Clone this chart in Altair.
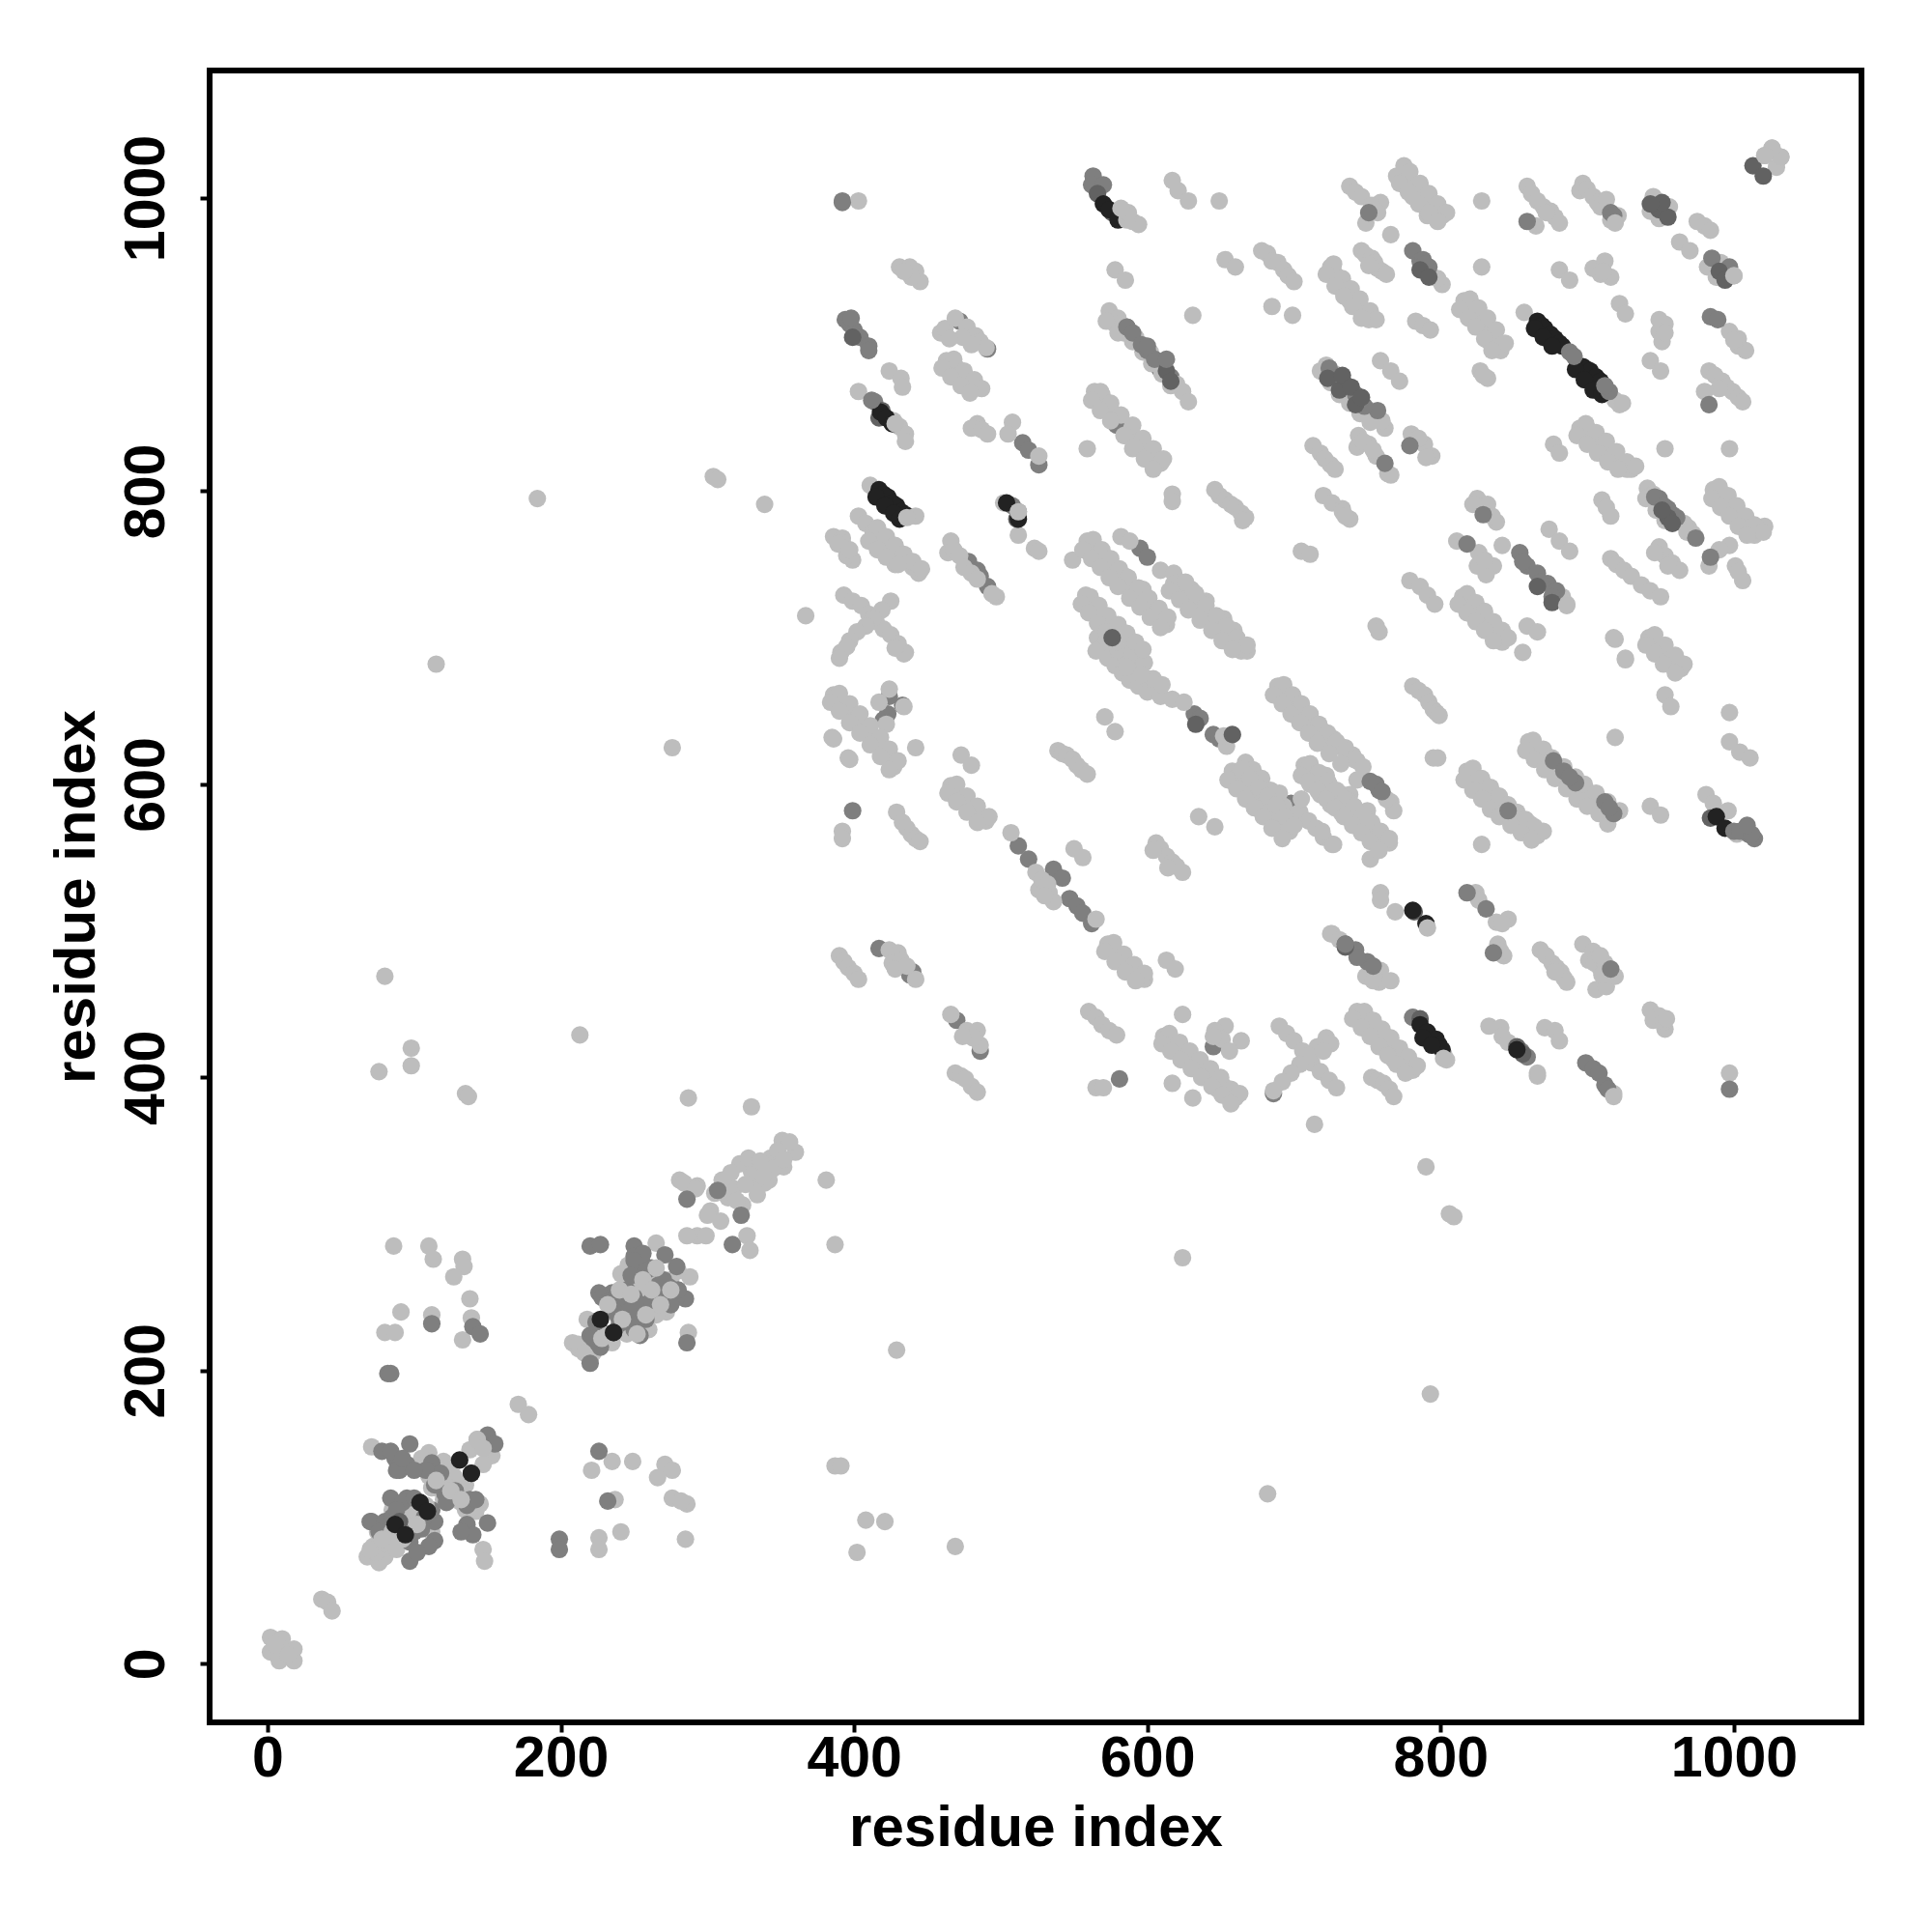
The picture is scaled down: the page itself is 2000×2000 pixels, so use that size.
import altair as alt
import pandas as pd

tick_values = [0, 200, 400, 600, 800, 1000]
axis_title = "residue index"
grays = ["#bdbdbd", "#7f7f7f", "#626262", "#222222", "#bcbcbc"]

light_diag_low = [(2,18),(10,17),(18,10),(2,8),(8,2),(18,2),(10,10),(5,13),(14,6),(37,44),(41,42),(44,36),(171,177),(178,170),
 (71,148),(110,144),(110,128),(115,120),(130,118),(125,112),(145,109),(123,135),(143,153),(153,142),(138,146),(147,136),(117,122),(128,126),(135,122),(120,138),(127,128),
 (72,80),(84,79),(68,73),(76,69),(80,73),(80,88),(90,106),(100,95),(74,76),(70,78),(147,78),(148,70),(103,100),(86,84),(92,100),
 (208,219),(220,209),(218,235),(235,219),(212,215),(265,287),(288,264),(241,266),(261,266),(269,242),(252,259),(258,262),(246,272),(273,248),(264,246),(266,256),(287,226),(222,212)]
light_diag_mid = [(281,330),(293,326),(302,309),(309,302),(293,292),(286,292),(299,292),(327,292),(329,282),(314,318),(324,313),(332,328),(342,330),(352,339),(318,324),(330,336),(343,345),(351,357),(360,349),(339,328),(322,341),(284,328),(292,324),(305,321),(310,330),(316,335),(326,327),(334,320),(345,338),(356,356),(348,350),(328,345),(320,316),(338,333),(336,343),(352,344),(300,306)]
light_scatter = [(86,285),(110,285),(113,276),(133,276),(134,271),(127,264),(138,249),(91,240),(112,238),(80,226),(87,226),(133,221),(139,236),(226,86),(226,78),(241,90),(285,85),(235,138),(221,132),(249,138),(271,136),(276,132),(266,127),(237,112),(276,113),(286,109),(282,111),(381,330),(387,286),(429,214),(213,429),(98,420),(98,408),(76,404),(80,469),(135,389),(137,387),(793,184),(682,116),(624,277),(809,305),(806,307),(790,339),(402,76),(408,98),(421,97),(469,80),(387,135),(391,135),(287,386),(330,380),(115,682),(276,625),(184,795),(304,810),(307,808),(339,791),(367,715),(386,631),(397,617),(442,625),(392,568),(392,563),(714,368)]

light_a = [(403,998),(617,1012),(621,1005),(628,998),(649,998),(431,953),(438,953),(442,950),(445,943),(439,946),(434,950),
 (459,908),(462,911),(469,918),(477,912),(483,906),(486,902),(490,898),(474,905),(480,900),(465,904),(463,889),(467,886),(470,884),(473,880),(477,877),(481,874),(484,871),(480,871),(424,882),(432,877),(433,871),(403,868),(427,848),(431,844),(435,839),(435,834),(484,846),(480,843),(487,842),(491,839),(508,847),(505,839),(559,829),
 (564,868),(569,866),(573,860),(576,853),(589,842),(594,832),(598,829),(602,826),(606,822),(609,819),(592,836),(585,838),(590,829),(574,923),(580,918),(592,905),(602,895),(620,873),(624,868),(628,861),(578,951),(585,944),(631,920),(653,958),(660,953),
 (678,964),(682,962),(685,957),(689,956),(693,951),(696,947),(700,943),(685,926),(699,920),(725,953),(728,948),(731,939),(735,937),(740,932),(744,928),(748,923),(751,917),(729,942),(738,930),
 (411,804),(403,783),(408,778),(413,772),(418,767),(424,761),(429,756),(435,752),(440,748),(444,744),(415,766),(428,750),(386,769),(392,768),(392,765),(395,760),(399,753),(395,756),(502,792),(512,770),(523,761),(526,759),(549,753),(617,798),(617,793),
 (646,801),(649,797),(653,794),(657,791),(660,789),(664,785),(667,782),(665,780),(705,759),(711,757),(720,797),(726,792),(733,788),(733,786),(738,781),(735,783),
 (466,766),(464,758),(468,760),(472,756),(475,748),(480,744),(497,728),(494,730),(484,740),(559,766),(563,761),(567,758),(571,752),(575,746),(579,742),(583,737),(588,733),(594,728),(600,722),(606,716),(610,712),(613,709),(575,750),(585,742),(597,733),
 (582,769),(588,766),(609,746),(618,744),(622,738),(625,730),(631,725),(637,721),(643,715),(649,709),(655,702),(660,697),(664,691),(618,737),(630,733),(640,725),(652,713),(659,705),(668,691),
 (558,729),(563,723),(569,716),(573,711),(585,702),(590,697),(594,690),(393,729),(399,725),(405,722),(410,716),(415,711),(420,706),(425,702),(430,696),(435,690),(425,725),(419,719),(413,713),(408,708),(402,704),(397,698),(391,690),(395,694),(434,689),(390,686),(428,693)]
light_b = [(386,661),(390,657),(395,652),(399,648),(403,646),(407,640),(411,634),(415,629),(418,625),(423,618),(427,612),(390,654),(424,665),(417,656),(434,653),(422,641),(385,632),(396,618),(473,620),(480,613),
 (466,599),(470,594),(475,589),(478,586),(482,582),(486,578),(490,575),(429,581),(433,574),(436,570),(439,566),(442,563),(445,561),(539,623),(542,621),(545,620),(549,617),(552,613),(555,610),(559,607),(571,646),(578,636),
 (566,700),(569,693),(573,686),(578,681),(583,676),(588,671),(594,667),(600,663),(609,660),(617,658),(625,656),(575,697),(585,687),(592,680),(600,672),(580,692),(590,690),(598,683),(604,672),(610,668),(572,698),(586,680),(596,675),(565,691),
 (654,626),(652,633),(658,609),(662,605),(667,601),(672,597),(677,592),(683,587),(689,582),(692,575),(697,568),(667,615),(672,610),(678,604),(684,596),(688,591),(693,585),(660,604),(670,592),(680,584),(686,575),(693,570),(690,594),(700,579),
 (704,581),(710,575),(715,570),(720,564),(726,559),(707,613),(712,607),(722,601),(728,595),(736,587),(705,590),(689,667),(693,662),(700,656),(705,651),(710,645),(714,640),(719,634),(725,630),(731,626),(736,622),(743,616),(743,603),(720,636),(727,631),(735,625),(740,620),
 (635,578),(646,571),(606,560),(609,556),(613,551),(617,547),(620,544),(624,540),(604,555),(614,543),(507,567),(524,540),(526,528),(533,526),(550,556),(556,550),(528,535),(532,532),(536,520),(530,524),(565,508),(573,491),(578,486),(583,481),(587,477),(592,472),(595,469),(598,467),(613,480),(619,474),
 (390,483),(393,479),(396,475),(400,471),(403,467),(424,487),(430,485),(426,478),(432,480),(428,474),(442,467),(436,476),(466,443),(477,432),(484,432),(486,422),(481,427),(474,428),(469,403),(473,401),(476,399),(480,394),(484,390),(560,445),(565,441),(569,436),(574,432),(579,429),(565,393),(570,393),
 (624,443),(611,428),(617,423),(623,419),(629,414),(635,409),(641,404),(646,399),(652,394),(656,389),(660,386),(648,392),(653,435),(646,432),(651,426),(664,425),(656,418),(645,428),(617,396),(631,386),
 (690,435),(695,430),(700,425),(706,418),(712,410),(718,404),(724,398),(729,393),(722,427),(716,421),(710,415),(704,409),(698,403),(692,397),(686,391),(725,423),(720,418)]
light_c = [(781,667),(785,664),(789,661),(792,656),(795,651),(797,649),(799,647),(725,498),(720,636),(713,608),(719,602),(725,596),(731,590),(737,585),(743,580),(749,574),(754,568),(759,563),(765,560),(722,606),(738,593),(750,582),(727,559),(719,568),(752,549),(795,618),(798,618),(766,588),(768,582),(763,590),
 (818,609),(822,607),(826,603),(830,598),(834,594),(837,591),(841,589),(852,578),(856,575),(861,573),(864,569),(866,565),(824,597),(835,586),(828,559),(860,629),(864,625),(869,622),(873,619),(898,596),(902,594),(907,591),(919,632),(997,649),(997,629),(1004,622),(1011,618),(943,585),(950,579),(981,593),(986,587),(996,582),(1002,566),(953,661),(957,653),
 (942,700),(947,696),(951,693),(955,689),(958,686),(961,682),(964,679),(953,688),(919,699),(926,685),(759,526),(759,521),(769,513),(824,526),(826,521),(838,506),(846,508),(842,505),(726,498),(731,494),(759,473),(758,465),(766,466),(749,469),(754,466),
 (839,491),(843,483),(841,486),(868,487),(872,483),(876,478),(879,475),(882,472),(884,468),(886,465),(878,472),(897,491),(904,486),(901,480),(905,478),(909,474),(912,478),(909,483),(906,460),(913,462),(919,469),(910,470),(943,446),(949,442),(953,433),(945,439),(952,438),(954,440),
 (743,445),(747,440),(752,434),(756,429),(761,423),(766,419),(771,414),(776,410),(781,405),(757,432),(768,412),(833,435),(841,434),(842,428),(846,424),(866,403),(871,434),(878,432),(881,425),(918,389),(997,403),(753,400),(757,398),(761,396),(765,392),(768,387),(804,412),(802,416),(781,441)]
light_d = [(738,1008),(742,1004),(746,1001),(759,997),(749,983),(757,990),(753,995),(775,1022),(770,1015),(776,1014),(782,1008),(786,1003),(789,998),(793,994),(796,991),(801,988),(781,1001),(791,988),(828,998),(859,1008),(862,1003),(866,998),(870,994),(875,991),(878,987),(881,983),(865,981),(872,990),
 (897,1010),(895,1005),(900,1006),(904,1001),(907,997),(909,994),(913,999),(919,984),(916,985),(921,988),(945,1001),(943,991),(949,986),(956,994),(975,984),(980,981),(984,978),(963,970),(970,964),(982,953),(991,956),(988,946),(1000,947),
 (1021,1029),(1026,1034),(1032,1028),(1029,1021),(766,975),(801,941),(798,945),(746,964),(749,961),(753,959),(755,956),(757,952),(760,950),(763,948),(751,954),(828,953),
 (783,916),(788,913),(793,910),(816,930),(820,925),(823,921),(827,915),(831,909),(835,903),(838,899),(841,896),(833,902),(857,922),(922,859),(919,862),(881,951),(888,944),(904,952),(912,957),(916,946),(909,948),(911,950),(922,928),(926,921),(949,917),(953,914),(949,909),(951,902),(953,908),(943,889),(950,882),
 (997,909),(1003,899),(1008,896),(1003,904),(1000,903),(983,882),(987,879),(992,875),(995,871),(999,868),(1003,864),(1006,861),(990,870),(980,868),(759,889),(766,882),(772,875),(762,843),(827,882),(832,877),(829,879),
 (895,843),(899,843),(902,841),(906,836),(909,833),(914,828),(921,822),(925,819),(930,815),(927,815),(877,832),(881,826),(953,829),(997,829),(744,838),(751,832),(743,830),(756,824),(764,812),(766,811),(747,834),(754,828),(780,839),(789,832),(794,824),(790,823),(785,836),(713,831),(718,826),(721,822),(725,818),(728,815),
 (825,795),(832,791),(838,779),(822,791),(835,783),(910,794),(913,789),(916,783),(874,774),(881,766),(888,759),(941,802),(945,798),(969,775),(972,771),(966,778),(986,801),(991,796),(996,791),(1001,785),(1005,779),(1010,775),(1014,770),(1021,776),(1017,774),(999,785),
 (949,762),(953,756),(958,751),(963,746),(946,758),(955,749),(997,763),(990,760),(983,749),(1001,749),(1006,739),(1003,745),(811,766),(826,758),(825,749),(836,749),(831,743),(830,753),(842,763),(886,723),(883,728),(779,739),(786,735),(791,729),(796,723),
 (815,728),(819,723),(824,718),(829,712),(833,706),(838,702),(842,697),(820,717),(918,700),(926,686),(859,708),(866,704),(856,690),(756,708),(758,704),(916,754),(920,750),(925,746),(930,742),(937,736),(943,732),(950,728)]
light_extra = [(722,886),(728,880),(734,874),(740,868),(746,860),(752,855),(760,848),(718,882),(725,874),(731,866),(738,860),(745,853),(752,847),(944,797),(950,791),(956,785),(962,779),(968,772),(940,795),(947,787),(953,780),
 (578,914),(584,908),(590,902),(597,895),(603,887),(610,880),(616,872),(572,916),(580,908),(75,90),(80,82),(88,78),(92,92),(85,105),(100,105),(108,98),(112,90),(105,140),(112,132),(118,125),(124,120),(128,112),(135,105),(142,104),(104,135),(112,120),(120,112),(132,110),(138,106),(115,128),
 (245,262),(255,255),(265,252),(272,240),(265,238),(260,228),(275,262),(280,268),(248,262),(232,225),(245,225),(255,240),(212,218),(216,212)]
light_wide_a = [(416,775),(422,769),(428,763),(434,757),(440,752),(446,747),(410,766),(416,760),(422,755),(430,750),(389,764),(397,760),
 (563,767),(569,760),(575,754),(581,747),(587,741),(594,734),(601,727),(608,720),(614,714),(556,760),(562,754),(568,748),(574,741),(580,735),(588,727),(595,721),(602,714),(609,707),
 (626,738),(633,730),(640,722),(647,715),(654,708),(661,700),(668,695),(615,732),(622,726),(628,719),(636,712),(644,705),(651,698),(658,692),
 (561,728),(567,722),(573,715),(580,709),(586,703),(592,697),(597,692),(555,723),(560,717),(566,710),(572,704),(578,697),
 (664,610),(670,604),(676,598),(682,592),(688,586),(694,578),(700,572),(655,603),(661,597),(667,590),(673,584),(679,578),(685,570),(692,563),
 (693,668),(699,661),(705,655),(711,648),(717,641),(723,635),(729,629),(735,623),(741,617),(747,612),(686,661),(692,655),(698,648),(704,642),(710,635),(716,628),(724,621),(732,614),
 (711,614),(717,607),(724,600),(731,594),(737,589),(705,606),(711,600),(718,593),(725,586),(732,581),
 (717,608),(723,602),(729,596),(735,590),(741,585),(747,579),(753,574),(759,568),(765,563),(710,602),(716,596),(722,590),(728,584),(734,578),(740,572),(746,567),(752,561),(758,555)]
light_wide_b = [(822,611),(828,604),(834,598),(840,592),(846,586),(852,581),(858,576),(864,571),(870,568),(816,603),(822,596),(828,590),(834,583),(840,578),(848,572),(855,567),(862,562),
 (863,630),(870,624),(876,618),(884,612),(892,605),(898,600),(906,594),(914,588),(922,582),(858,623),(864,617),(871,610),(878,604),(886,597),(893,590),(900,585),(908,580),(914,573),
 (748,445),(754,439),(760,433),(766,427),(772,420),(778,414),(784,408),(740,440),(746,434),(752,428),(758,421),(764,415),(770,409),(776,403),
 (615,430),(622,424),(629,418),(636,412),(643,406),(650,400),(657,392),(663,389),(610,423),(616,418),(623,412),(630,406),(637,400),(644,394),(651,388),(657,382),
 (899,846),(906,840),(913,834),(920,827),(927,820),(933,817),(893,838),(900,832),(907,826),(914,820),(921,815),
 (990,803),(996,797),(1002,790),(1008,783),(1014,777),(1020,772),(985,795),(991,789),(997,783),(1003,776),(1009,770),
 (818,730),(824,724),(830,718),(836,711),(842,705),(846,700),(812,723),(818,717),(824,711),(830,705),(836,698),
 (820,931),(826,925),(832,918),(838,910),(844,901),(813,924),(819,918),(824,912),(830,904),(835,896),
 (727,955),(733,945),(739,938),(745,931),(752,923),(756,917),(722,948),(728,940),(734,933),(740,926),(746,918),
 (779,1018),(786,1010),(792,1003),(798,996),(804,990),(772,1010),(778,1004),(785,996),(792,990),(798,984),
 (568,868),(575,860),(582,852),(590,845),(597,836),(604,829),(611,822),(562,862),(568,855),(575,848),(584,838),(591,830),(598,822),(604,815),
 (468,890),(475,882),(482,876),(487,870),(460,884),(466,878),(473,872),(479,867),
 (390,662),(397,655),(404,648),(411,640),(418,632),(424,624),(430,616),(384,656),(390,650),(397,642),(404,635),(411,627),(418,619),(424,610),
 (470,600),(477,592),(484,585),(492,578),(464,594),(470,588),(477,581),(484,574),
 (577,492),(584,484),(591,477),(598,471),(571,486),(578,479),(585,472),(592,466),
 (946,702),(953,695),(960,688),(966,682),(940,695),(946,689),(952,682),(960,676)]
light_over = [(232,245),(240,255),(248,252),(256,262),(262,255),(268,245),(242,235),(252,225),(265,270),(275,255),(258,238),(228,222),(115,125),(125,118),(132,112),(85,90),(92,85),(102,95),(78,85),(108,108)]

mid_a = [(392,998),(563,1015),(562,1009),(570,1009),(394,917),(397,914),(400,910),(404,905),(410,899),(410,896),(472,916),(414,861),(515,833),(519,828),(526,818),(579,845),(582,848),(586,912),(598,898),(601,895),(606,888),(608,884),(398,918),(478,752),(484,746),(486,742),(491,735),(595,761),(600,755),(576,704),(579,701),(491,897),
 (512,786),(508,790),(616,878),(424,660),(433,654),(423,648),(420,644),(632,648),(636,645),(645,634),(649,631),(696,660),(701,655),(698,587),(700,585),(512,558),(519,549),(536,542),(542,536),(547,522),(552,517),(556,512),(562,505),(399,582),(417,488),(438,470),(440,472),(470,439),(486,418),(581,399),(645,421),(648,424),(686,389)]
mid_b = [(735,491),(742,487),(750,479),(754,476),(743,482),(752,602),(758,596),(756,600),(831,515),(836,485),(846,582),(877,616),(884,609),(892,601),(888,605),(912,588),(918,580),(915,584),(1008,570),(1012,565),(1010,566),(1014,563),(818,526),(781,441),(859,414),(855,418),(899,410),(904,406),(908,403),(912,395),(914,392),(997,392),(916,474),
 (751,990),(859,984),(916,990),(918,988),(781,964),(786,957),(792,953),(788,958),(789,955),(985,959),(997,953),(984,919),(989,917),(983,859),(757,855),(762,819),(779,831),(949,795),(955,788),(961,782),(952,790),(974,768),(984,755),(818,764),(854,758),(859,749),(866,744),(873,737),(879,732),(856,752),(868,738),(876,728),(829,784),
 (71,97),(78,145),(87,140),(95,136),(97,150),(84,145),(90,132),(112,137),(118,130),(121,116),(138,112),(150,156),(155,150),(84,113),(95,113),(114,97),(70,97),(80,97),(114,84),(97,83),(97,70),(136,95),(150,96),(140,88),(132,90),(220,285),(227,286),(250,285),(271,279),(279,271),(256,273),(274,257),(285,249),(279,250),(241,250),(226,253),(235,253),(242,249),(249,243),(254,235),(254,224),(239,237),(220,224),(225,219),(220,205),(286,219),(82,198),(84,198),(199,85),(199,78),(226,145),(232,111),(112,232),(140,230),(145,225),(286,317),(307,323),(317,286),(323,306),(250,278),(266,258)]
mid_extra = [(85,100),(92,110),(100,113),(107,100),(112,105),(76,90),(88,105),(105,92),(110,80),(102,76),(100,90),(108,132),(114,122),(122,110),(128,118),(136,108),(142,112),(88,132),(92,140),(100,132),
 (228,250),(232,247),(245,255),(250,250),(255,245),(246,240),(240,232),(250,228),(258,235),(262,248),(268,252),(275,245),(280,255),(262,270),(256,280),(250,275),(248,265),(258,268),(270,262),(224,233),(237,240),(252,232),(222,222),(227,216),
 (586,912),(590,908),(596,900),(600,896),(605,890),(724,884),(730,878),(736,872),(742,866),(748,858),(946,796),(952,790),(958,784)]
dark_a = [(1013,1022),(1020,1015),(566,1003),(576,990),(399,905),(419,855),(417,850),(613,882),(616,875),(576,700),(735,489),(511,781),(658,634),(633,641),(782,513),(786,440),(984,577),(852,421),(856,416),(786,951),(792,946),(949,992),(955,987),(951,997),(990,950),(994,944),(943,996),(723,877),(731,869),(742,859),(733,879),(739,871),(746,864),(866,735),(876,724),(955,782),(951,787),(958,778),(236,226),(104,110),(139,130),(90,97),(109,104)]
black_a = [(570,996),(574,992),(580,985),(417,801),(420,798),(423,796),(426,792),(429,790),(432,786),(435,784),(415,796),(421,790),(427,785),(431,781),(504,792),(512,781),(418,854),(422,850),(426,846),
 (866,916),(869,913),(871,911),(875,907),(878,904),(881,901),(883,899),(864,911),(870,905),(876,899),(897,885),(900,883),(902,882),(906,878),(909,875),(892,883),(898,876),(904,869),(910,866),
 (781,514),(790,505),(786,436),(791,431),(797,426),(799,422),(801,419),(788,427),(794,422),(852,419),(988,578),(994,570),(227,235),(236,226),(131,139),(139,130),(104,110),(109,104),(87,95),(94,88)]
mid_top = [(888,895),(891,892),(915,868),(912,872),(392,997),(412,862),(600,899),(613,890),(1000,568),(1004,568),(1012,566),(1009,572),(760,595),(735,491)]
cap_top = [(442,783),(436,782),(512,786),(526,824),(428,846),(924,860),(802,413),(791,502),(918,387),(866,401),(886,722),(919,983),(590,984),(1000,947),(1032,1028),(1026,1034),(1021,1029),(594,982),(586,985),(587,990),(582,993),(143,153),(147,147)]

groups = [(light_diag_low, 0), (light_diag_mid, 0), (light_scatter, 0), (mid_a, 1), (light_a, 0), (light_b, 0), (light_c, 0), (light_d, 0), (light_extra, 0), (light_wide_a, 0), (light_wide_b, 0), (mid_b, 1), (mid_extra, 1), (light_over, 0), (dark_a, 2), (black_a, 3), (mid_top, 1), (cap_top, 4)]
rows = [{"x": p[0], "y": p[1], "g": lvl} for pts, lvl in groups for p in pts]
df = pd.DataFrame(rows)

axis_common = dict(values=tick_values, format="d", labelFont="Liberation Sans", labelFontSize=59, labelFontWeight="bold", labelColor="black",
    titleFont="Liberation Sans", titleFontSize=60, titleFontWeight="bold", titleColor="black",
    domain=False, grid=False, ticks=True, tickColor="black", tickWidth=4, tickSize=10, labelOverlap=False, labelFlush=False)

chart = alt.Chart(df).mark_circle(size=330, opacity=1).encode(
    x=alt.X("x:Q", scale=alt.Scale(domain=[-39.5, 1087], nice=False, zero=False), axis=alt.Axis(title=axis_title, labelPadding=-2, titlePadding=13, **axis_common)),
    y=alt.Y("y:Q", scale=alt.Scale(domain=[-40, 1087], nice=False, zero=False), axis=alt.Axis(title=axis_title, labelAngle=-90, labelAlign="center", labelBaseline="bottom", labelPadding=26, titlePadding=12, **axis_common)),
    color=alt.Color("g:O", scale=alt.Scale(domain=[0, 1, 2, 3, 4], range=grays), legend=None),
).properties(width=1710, height=1710, autosize=alt.AutoSizeParams(type="none"), background="white",
    padding={"left": 209, "top": 65, "right": 60, "bottom": 190}
).configure_view(stroke="black", strokeWidth=6, fill="white")

chart.save("out.html", embed_options={"renderer": "svg", "actions": False})
